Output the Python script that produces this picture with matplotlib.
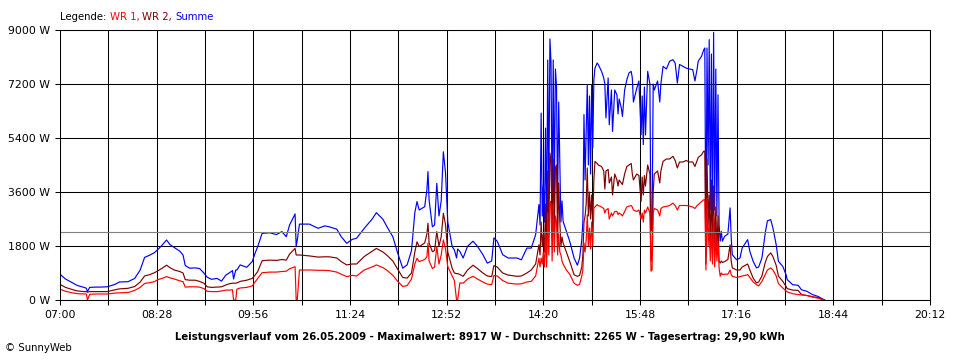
import matplotlib
matplotlib.use("Agg")
import matplotlib.pyplot as plt
import numpy as np

# Leistungsverlauf 26.05.2009 (SunnyWeb), Werte in W
zeit = [
    "07:00", "07:05", "07:11", "07:16", "07:22", "07:24", "07:25", "07:27", "07:32", "07:36",
    "07:43", "07:50", "07:54", "08:02", "08:08", "08:13", "08:17", "08:22", "08:26", "08:29",
    "08:33", "08:37", "08:40", "08:44", "08:49", "08:52", "08:54", "08:58", "09:03", "09:07",
    "09:11", "09:14", "09:18", "09:23", "09:27", "09:31", "09:34", "09:37", "09:38", "09:40",
    "09:41", "09:44", "09:50", "09:55", "09:58", "10:00", "10:04", "10:11", "10:17", "10:22",
    "10:26", "10:29", "10:34", "10:35", "10:36", "10:38", "10:47", "10:55", "11:01", "11:05",
    "11:12", "11:16", "11:21", "11:26", "11:30", "11:37", "11:44", "11:48", "11:54", "11:58",
    "12:03", "12:07", "12:12", "12:16", "12:20", "12:23", "12:25", "12:27", "12:32", "12:34",
    "12:35", "12:36", "12:39", "12:41", "12:43", "12:45", "12:47", "12:49", "12:51", "12:53",
    "12:57", "12:59", "13:01", "13:02", "13:04", "13:07", "13:11", "13:16", "13:20", "13:25",
    "13:29", "13:33", "13:35", "13:38", "13:43", "13:48", "13:56", "14:00", "14:05", "14:09",
    "14:13", "14:16", "14:17", "14:18", "14:19", "14:20", "14:21", "14:22", "14:23", "14:24",
    "14:25", "14:26", "14:27", "14:28", "14:29", "14:30", "14:31", "14:32", "14:33", "14:34",
    "14:35", "14:36", "14:37", "14:38", "14:41", "14:44", "14:48", "14:51", "14:53", "14:55",
    "14:56", "14:57", "14:58", "14:59", "15:00", "15:01", "15:02", "15:03", "15:04", "15:05",
    "15:06", "15:07", "15:09", "15:10", "15:13", "15:15", "15:16", "15:17", "15:19", "15:20",
    "15:22", "15:23", "15:25", "15:27", "15:28", "15:29", "15:31", "15:32", "15:34", "15:36",
    "15:38", "15:40", "15:41", "15:42", "15:45", "15:47", "15:49", "15:50", "15:51", "15:52",
    "15:53", "15:55", "15:57", "15:58", "15:59", "16:00", "16:01", "16:04", "16:06", "16:07",
    "16:09", "16:12", "16:15", "16:18", "16:20", "16:22", "16:24", "16:27", "16:30", "16:33",
    "16:36", "16:38", "16:40", "16:41", "16:44", "16:46", "16:47", "16:48", "16:49", "16:50",
    "16:51", "16:52", "16:53", "16:54", "16:55", "16:56", "16:57", "16:58", "16:59", "17:00",
    "17:01", "17:02", "17:03", "17:05", "17:08", "17:10", "17:11", "17:12", "17:16", "17:19",
    "17:21", "17:25", "17:26", "17:28", "17:31", "17:34", "17:36", "17:39", "17:42", "17:44",
    "17:47", "17:49", "17:52", "17:54", "17:58", "18:01", "18:02", "18:07", "18:12", "18:15",
    "18:20", "18:25", "18:30", "18:34", "18:36",
]

summe = [
    860, 700, 580, 480, 420, 390, 280, 420, 430, 430,
    440, 520, 600, 610, 720, 1000, 1420, 1500, 1580, 1680,
    1830, 2000, 1850, 1750, 1630, 1500, 1150, 1060, 1070, 1050,
    900, 760, 690, 720, 630, 830, 900, 980, 700, 1000,
    1000, 1170, 1090, 1280, 1600, 1780, 2220, 2240, 2180, 2280,
    2110, 2500, 2870, 1780, 2000, 2530, 2530, 2390, 2470, 2440,
    2360, 2110, 1890, 2020, 2060, 2390, 2690, 2910, 2690, 2420,
    2110, 1610, 1060, 1170, 1650, 2910, 3280, 3000, 3110, 3670,
    4280, 3330, 2440, 2500, 3890, 2800, 3300, 4940, 4220, 2600,
    1780, 1670, 1400, 1700, 1620, 1400, 1790, 1960, 1790, 1510,
    1230, 1300, 2070, 1960, 1510, 1400, 1400, 1340, 1730, 1730,
    2180, 3180, 2500, 6230, 2800, 3840, 2600, 5730, 2400, 8000,
    3500, 8700, 7900, 2800, 8000, 3500, 7700, 7100, 3200, 6600,
    4600, 2600, 3300, 2620, 2290, 1960, 1400, 1160, 1400, 2000,
    2620, 6180, 4000, 5600, 7180, 4500, 6800, 4200, 7180, 5070,
    7340, 7730, 7900, 7850, 7620, 7400, 7200, 6070, 7400, 5840,
    7000, 5620, 7000, 6840, 6200, 6700, 6400, 6120, 7000, 7340,
    7570, 7620, 7400, 6600, 7050, 7300, 5510, 6800, 5180, 7100,
    5500, 7620, 7200, 2300, 2500, 7200, 7000, 7300, 6600, 7200,
    7790, 7700, 7960, 8010, 7900, 7230, 7850, 7790, 7730, 7700,
    7680, 7300, 7700, 7960, 8120, 8340, 8400, 1510, 8400, 4500,
    8680, 3000, 8200, 2500, 8920, 3000, 7700, 2800, 6840, 2510,
    1960, 2290, 1960, 2120, 2200, 3070, 2100, 1510, 1340, 1400,
    1730, 1960, 2010, 1620, 1290, 1070, 1100, 1400, 2230, 2640,
    2680, 2400, 1840, 1290, 1120, 840, 680, 510, 490, 340,
    290, 180, 120, 40, 0,
]

wr2 = [
    520, 420, 350, 300, 280, 280, 260, 280, 280, 280,
    280, 340, 370, 390, 450, 600, 800, 850, 910, 970,
    1060, 1160, 1080, 1000, 950, 900, 680, 660, 660, 620,
    560, 440, 420, 430, 440, 500, 540, 560, 560, 560,
    570, 620, 660, 720, 850, 950, 1310, 1330, 1320, 1350,
    1330, 1530, 1720, 1500, 1500, 1500, 1470, 1430, 1440, 1440,
    1400, 1280, 1170, 1200, 1200, 1450, 1620, 1720, 1600, 1480,
    1300, 1050, 750, 730, 900, 1600, 1940, 1780, 1900, 2200,
    2560, 1900, 1610, 1650, 2280, 1800, 2100, 2890, 2500, 1600,
    1060, 900, 880, 880, 850, 790, 1000, 1160, 1050, 900,
    800, 780, 1150, 1100, 900, 830, 790, 800, 900, 1000,
    1200, 1840, 1500, 2600, 1800, 2200, 1600, 3200, 1500, 4300,
    2200, 4900, 4600, 2100, 4700, 2300, 4400, 4500, 1900, 3900,
    2600, 1800, 2100, 1900, 1600, 1290, 840, 790, 820, 1100,
    1500, 2600, 2800, 3200, 4400, 2800, 3600, 2700, 3500, 2600,
    4000, 4620, 4550, 4500, 4450, 4300, 3700, 4300, 4350, 3900,
    4100, 3500, 4200, 4000, 3800, 4000, 3900, 3850, 4200, 4450,
    4500, 4550, 4200, 4000, 4200, 4150, 3290, 4100, 3500, 4150,
    3800, 4500, 4200, 1290, 1500, 3600, 4200, 4300, 3900, 4300,
    4620, 4700, 4700, 4790, 4650, 4400, 4600, 4600, 4650, 4600,
    4600, 4450, 4650, 4750, 4840, 4960, 4960, 1200, 4700, 2500,
    3500, 1700, 4000, 1400, 3800, 1500, 3100, 1600, 2800, 1290,
    1230, 1300, 1250, 1280, 1350, 1840, 1300, 1070, 1000, 1000,
    1100, 1180, 1200, 1000, 730, 570, 600, 800, 1250, 1450,
    1570, 1450, 1150, 800, 620, 450, 380, 330, 320, 180,
    150, 110, 80, 20, 0,
]

wr1 = [
    360, 290, 240, 210, 200, 200, 0, 190, 200, 200,
    200, 230, 240, 250, 320, 420, 550, 580, 610, 680,
    720, 780, 740, 700, 640, 610, 430, 440, 440, 430,
    380, 290, 280, 280, 300, 330, 330, 340, 0, 0,
    360, 400, 420, 470, 620, 720, 910, 930, 930, 950,
    960, 1040, 1110, 0, 0, 1000, 1000, 990, 990, 980,
    930, 860, 780, 820, 800, 1000, 1100, 1170, 1080, 980,
    820, 640, 450, 480, 700, 1200, 1390, 1280, 1350, 1440,
    1890, 1300, 1050, 1100, 1780, 1200, 1500, 2000, 1700, 1110,
    800, 650, 0, 0, 570, 560, 700, 790, 700, 600,
    530, 510, 820, 800, 650, 560, 530, 540, 600, 620,
    800, 1400, 1100, 1400, 1200, 1600, 1100, 2200, 1100, 2900,
    1500, 3300, 3200, 1300, 3200, 1600, 2800, 2600, 1500, 2200,
    1600, 1500, 1300, 1200, 1000, 860, 560, 490, 520, 800,
    1000, 1900, 1600, 2000, 2840, 1800, 2400, 1700, 2600, 1800,
    3070, 3100, 3180, 3150, 3100, 3050, 2900, 3000, 3050, 2700,
    2900, 2800, 2950, 2950, 2850, 2900, 2850, 2800, 2950, 3100,
    3130, 3150, 3100, 3000, 2950, 3000, 2700, 2900, 2600, 3000,
    2900, 3100, 2900, 960, 1000, 2900, 3050, 3000, 2800, 3050,
    3100, 3120, 3150, 3230, 3150, 3000, 3150, 3150, 3150, 3130,
    3100, 3050, 3150, 3180, 3280, 3340, 3350, 1000, 3400, 1800,
    2600, 1300, 2400, 1200, 2800, 1100, 2200, 1300, 1900, 1070,
    790, 900, 850, 860, 860, 1000, 850, 790, 750, 780,
    800, 830, 850, 750, 600, 510, 470, 620, 850, 1000,
    1070, 1000, 800, 550, 400, 300, 270, 210, 180, 170,
    150, 100, 60, 20, 0,
]

durchschnitt = 2265
y_ticks = [0, 1800, 3600, 5400, 7200, 9000]

x = np.array([int(t[:2]) * 60 + int(t[3:]) for t in zeit])

fig = plt.figure(figsize=(9.6, 3.6), dpi=100)
ax = fig.add_axes([60 / 960, 60 / 360, 870 / 960, 270 / 360])

ax.set_xlim(420, 1212)
ax.set_ylim(0, 9000)
ticks = np.arange(420, 1213, 44)
ax.set_xticks(ticks)
ax.set_xticklabels([f"{t // 60:02d}:{t % 60:02d}" if (t - 420) % 88 == 0 else "" for t in ticks])
ax.set_yticks(y_ticks)
ax.set_yticklabels([f"{v} W" for v in y_ticks])
ax.tick_params(length=3.6, width=0.75, labelsize=7.8, pad=3.5, color="black")
ax.grid(True, color="black", linewidth=0.75)
ax.set_axisbelow(True)
for s in ax.spines.values():
    s.set_linewidth(0.75)
    s.set_color("black")

ax.plot(x, summe, color="#0000ff", lw=0.85)
ax.plot(x, wr2, color="#800000", lw=0.85)
ax.plot(x, wr1, color="#ff0000", lw=0.85)
ax.axhline(durchschnitt, color="#808080", lw=0.8)

# Legende oben links, mehrfarbig
t = fig.text(60 / 960, 1 - 17 / 360, "Legende: ", fontsize=7.3, va="center", color="black")
for txt, col in [("WR 1, ", "#ff0000"), ("WR 2, ", "#800000"), ("Summe", "#0000ff")]:
    t = ax.annotate(txt, xy=(1, 0), xycoords=t, va="bottom", ha="left", fontsize=7.3,
                    color=col, annotation_clip=False)

fig.text(0.5, 1 - 337 / 360,
         "Leistungsverlauf vom 26.05.2009 - Maximalwert: 8917 W - Durchschnitt: 2265 W - Tagesertrag: 29,90 kWh",
         ha="center", va="center", fontsize=7.3, fontweight="bold")
fig.text(5 / 960, 1 - 348 / 360, "© SunnyWeb", fontsize=7.3, va="center")

fig.savefig("out.png", dpi=100, facecolor="white")
